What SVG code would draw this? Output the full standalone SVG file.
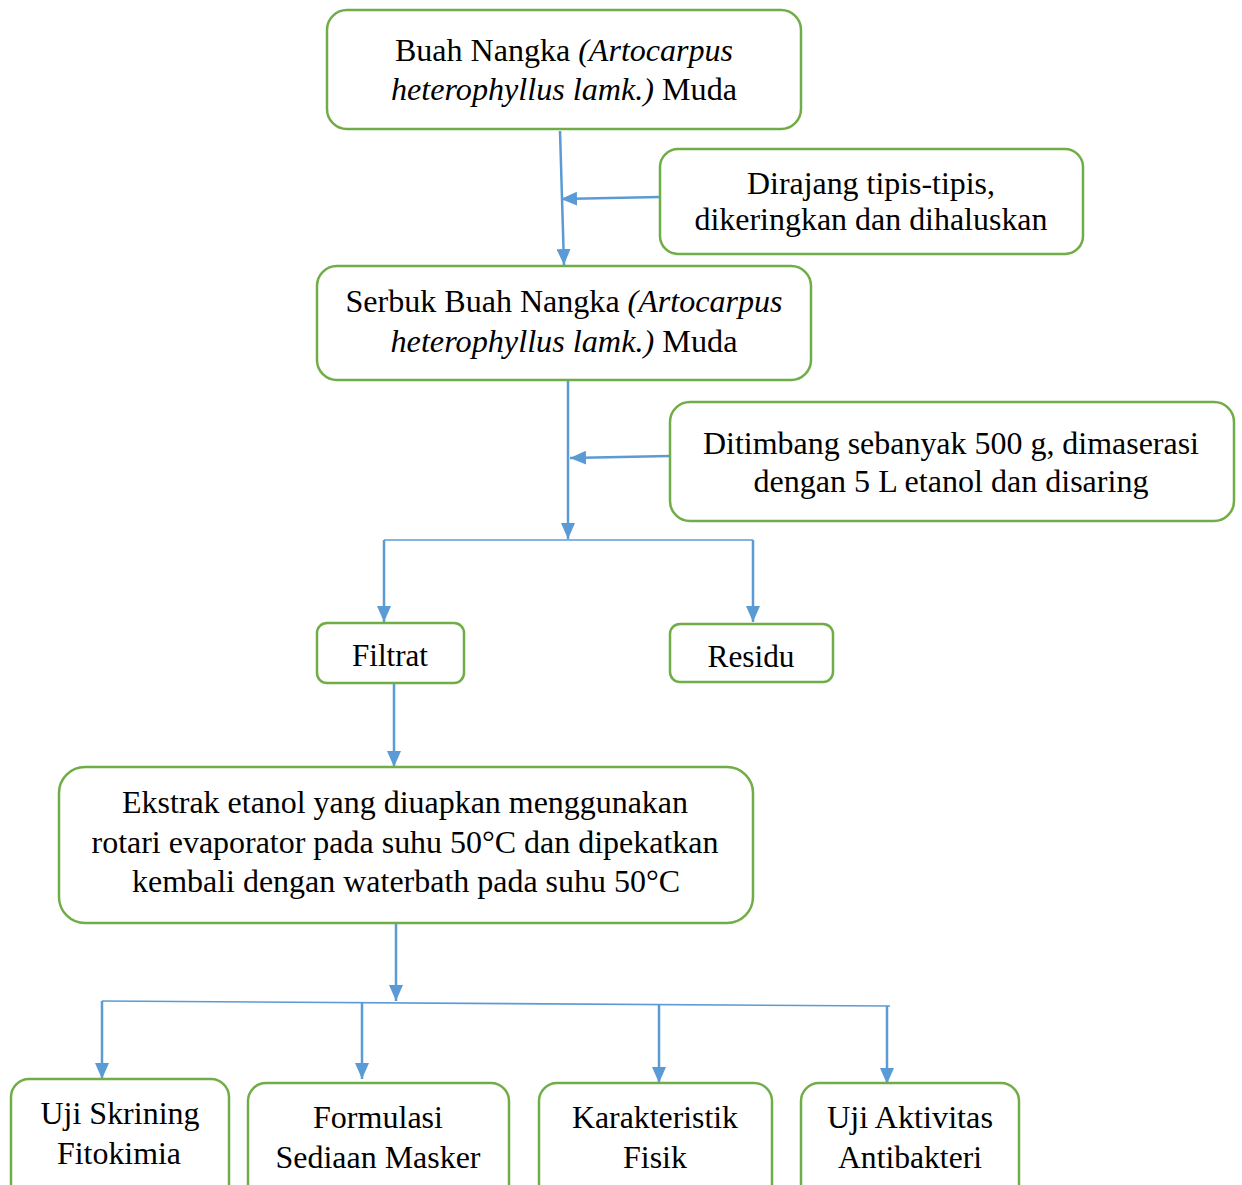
<svg xmlns="http://www.w3.org/2000/svg" width="1242" height="1185" viewBox="0 0 1242 1185">
  <style>
    .box { fill: #ffffff; stroke: #70AD47; stroke-width: 2.5; }
    .lbl { font-family: "Liberation Serif", "Times New Roman", serif; font-size: 31px; fill: #000000; text-anchor: middle; }
    .it { font-style: italic; }
    .flow { stroke: #5B9BD5; stroke-width: 2.5; fill: none; }
    .bus { stroke: #5B9BD5; stroke-width: 1.6; fill: none; }
  </style>
  <defs>
    <marker id="arrow" markerUnits="userSpaceOnUse" markerWidth="16" markerHeight="14" refX="16" refY="7" orient="auto">
      <path d="M0,0 L16,7 L0,14 z" fill="#5B9BD5"/>
    </marker>
  </defs>
  <rect width="1242" height="1185" fill="#ffffff"/>

  <!-- connectors -->
  <g id="connectors">
    <line class="flow" x1="560" y1="131" x2="564" y2="265" marker-end="url(#arrow)"/>
    <line class="flow" x1="660" y1="197" x2="561" y2="199" marker-end="url(#arrow)"/>
    <line class="flow" x1="568" y1="381" x2="568" y2="539" marker-end="url(#arrow)"/>
    <line class="flow" x1="670" y1="456" x2="570" y2="458" marker-end="url(#arrow)"/>
    <polyline class="bus" points="384,540 753,540"/>
    <line class="flow" x1="384" y1="540" x2="384" y2="622" marker-end="url(#arrow)"/>
    <line class="flow" x1="753" y1="540" x2="753" y2="622" marker-end="url(#arrow)"/>
    <line class="flow" x1="394" y1="684" x2="394" y2="767" marker-end="url(#arrow)"/>
    <line class="flow" x1="396" y1="924" x2="396" y2="1001" marker-end="url(#arrow)"/>
    <polyline class="bus" points="102,1001 890,1006"/>
    <line class="flow" x1="102" y1="1001" x2="102" y2="1079" marker-end="url(#arrow)"/>
    <line class="flow" x1="362" y1="1002" x2="362" y2="1079" marker-end="url(#arrow)"/>
    <line class="flow" x1="659" y1="1005" x2="659" y2="1083" marker-end="url(#arrow)"/>
    <line class="flow" x1="887" y1="1006" x2="887" y2="1084" marker-end="url(#arrow)"/>
  </g>

  <!-- nodes -->
  <g id="buah">
    <rect class="box" x="327" y="10" width="474" height="119" rx="20"/>
    <text class="lbl" x="564" y="61" textLength="338" lengthAdjust="spacingAndGlyphs">Buah Nangka <tspan class="it">(Artocarpus</tspan></text>
    <text class="lbl" x="564" y="100" textLength="346" lengthAdjust="spacingAndGlyphs"><tspan class="it">heterophyllus lamk.)</tspan> Muda</text>
  </g>
  <g id="dirajang">
    <rect class="box" x="660" y="149" width="423" height="105" rx="18"/>
    <text class="lbl" x="871" y="194" textLength="248" lengthAdjust="spacingAndGlyphs">Dirajang tipis-tipis,</text>
    <text class="lbl" x="871" y="230" textLength="353" lengthAdjust="spacingAndGlyphs">dikeringkan dan dihaluskan</text>
  </g>
  <g id="serbuk">
    <rect class="box" x="317" y="266" width="494" height="114" rx="20"/>
    <text class="lbl" x="564" y="312" textLength="437" lengthAdjust="spacingAndGlyphs">Serbuk Buah Nangka <tspan class="it">(Artocarpus</tspan></text>
    <text class="lbl" x="564" y="352" textLength="347" lengthAdjust="spacingAndGlyphs"><tspan class="it">heterophyllus lamk.)</tspan> Muda</text>
  </g>
  <g id="ditimbang">
    <rect class="box" x="670" y="402" width="564" height="119" rx="20"/>
    <text class="lbl" x="951" y="454" textLength="496" lengthAdjust="spacingAndGlyphs">Ditimbang sebanyak 500 g, dimaserasi</text>
    <text class="lbl" x="951" y="492" textLength="395" lengthAdjust="spacingAndGlyphs">dengan 5 L etanol dan disaring</text>
  </g>
  <g id="filtrat">
    <rect class="box" x="317" y="623" width="147" height="60" rx="10"/>
    <text class="lbl" x="390" y="666" textLength="76" lengthAdjust="spacingAndGlyphs">Filtrat</text>
  </g>
  <g id="residu">
    <rect class="box" x="670" y="624" width="163" height="58" rx="10"/>
    <text class="lbl" x="751" y="667" textLength="87" lengthAdjust="spacingAndGlyphs">Residu</text>
  </g>
  <g id="ekstrak">
    <rect class="box" x="59" y="767" width="694" height="156" rx="26"/>
    <text class="lbl" x="405" y="813" textLength="566" lengthAdjust="spacingAndGlyphs">Ekstrak etanol yang diuapkan menggunakan</text>
    <text class="lbl" x="405" y="853" textLength="627" lengthAdjust="spacingAndGlyphs">rotari evaporator pada suhu 50°C dan dipekatkan</text>
    <text class="lbl" x="406" y="892" textLength="548" lengthAdjust="spacingAndGlyphs">kembali dengan waterbath pada suhu 50°C</text>
  </g>
  <g id="skrining">
    <rect class="box" x="11" y="1079" width="218" height="130" rx="18"/>
    <text class="lbl" x="120" y="1124" textLength="159" lengthAdjust="spacingAndGlyphs">Uji Skrining</text>
    <text class="lbl" x="119" y="1164" textLength="124" lengthAdjust="spacingAndGlyphs">Fitokimia</text>
  </g>
  <g id="formulasi">
    <rect class="box" x="248" y="1083" width="261" height="130" rx="18"/>
    <text class="lbl" x="378" y="1128" textLength="130" lengthAdjust="spacingAndGlyphs">Formulasi</text>
    <text class="lbl" x="378" y="1168" textLength="205" lengthAdjust="spacingAndGlyphs">Sediaan Masker</text>
  </g>
  <g id="karakteristik">
    <rect class="box" x="539" y="1083" width="233" height="130" rx="18"/>
    <text class="lbl" x="655" y="1128" textLength="166" lengthAdjust="spacingAndGlyphs">Karakteristik</text>
    <text class="lbl" x="655" y="1168" textLength="64" lengthAdjust="spacingAndGlyphs">Fisik</text>
  </g>
  <g id="antibakteri">
    <rect class="box" x="801" y="1083" width="218" height="130" rx="18"/>
    <text class="lbl" x="910" y="1128" textLength="166" lengthAdjust="spacingAndGlyphs">Uji Aktivitas</text>
    <text class="lbl" x="910" y="1168" textLength="144" lengthAdjust="spacingAndGlyphs">Antibakteri</text>
  </g>
</svg>
